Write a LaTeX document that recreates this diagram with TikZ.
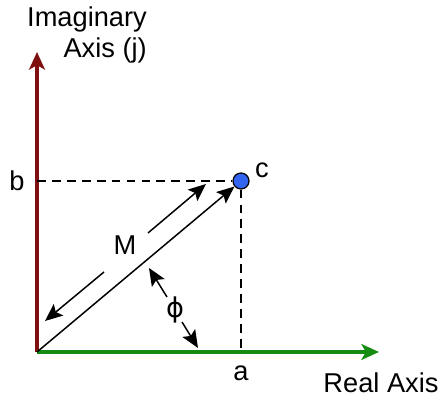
\documentclass[tikz,border=0pt]{standalone}
\usepackage{fontspec}
\setmainfont{Liberation Sans}
\newfontfamily\symfont{DejaVu Sans}
\usetikzlibrary{arrows.meta,positioning}

\definecolor{imagred}{RGB}{128,16,16}
\definecolor{realgreen}{RGB}{20,140,20}
\definecolor{dotblue}{RGB}{50,100,240}

\begin{document}
\begin{tikzpicture}[x=0.02cm, y=-0.02cm,
  every node/.style={font=\fontsize{15.5}{18}\selectfont},
  axisline/.style={line width=1.8pt, -{Stealth[length=10pt,width=9pt,inset=2.5pt]}},
  dimarrow/.style={line width=0.85pt, -{Stealth[length=10pt,width=8.5pt,inset=2pt]}},
  guide/.style={line width=0.8pt, dash pattern=on 5pt off 3.5pt},
  phasor/.style={circle, draw=black, fill=dotblue, line width=0.7pt, minimum size=0.32cm, inner sep=0pt}]
\path[use as bounding box] (0,0) rectangle (444,398);
\coordinate (O) at (37,352);
\coordinate (jtop) at (37,52);
\coordinate (rend) at (379,352);
\node[phasor] (c) at (241,181) {};
\coordinate (bpt) at (37,181);
\coordinate (apt) at (241,352);
% axes
\draw[axisline, imagred] (O) -- (jtop);
\draw[axisline, realgreen] (O) -- (rend);
% projections
\draw[guide] (bpt) -- (c);
\draw[guide] (c) -- (apt);
\draw[dimarrow] (O) -- (c);
% labels
\node (b) at (17,181) {b};
\node (a) at (241,373) {a};
\node (clab) at (262,170) {c};
\node (imlab) at (87,35) [align=right, inner sep=0pt] {Imaginary\\Axis (j)};
\node (relab) at (381,383) {Real Axis};
\node (M) at (125,245) {M};
\node (phi) at (175,310) {\symfont ϕ};
% magnitude arrows
\coordinate (Mu1) at (148,233);
\coordinate (Mu2) at (206,184);
\coordinate (Ml1) at (104,272);
\coordinate (Ml2) at (45,321);
\draw[dimarrow] (Mu1) -- (Mu2);
\draw[dimarrow] (Ml1) -- (Ml2);
% angle arrows
\coordinate (p1) at (167,297);
\coordinate (p2) at (149,268);
\coordinate (p3) at (182,322);
\coordinate (p4) at (198,348);
\draw[dimarrow] (p1) -- (p2);
\draw[dimarrow] (p3) -- (p4);
\end{tikzpicture}
\end{document}
